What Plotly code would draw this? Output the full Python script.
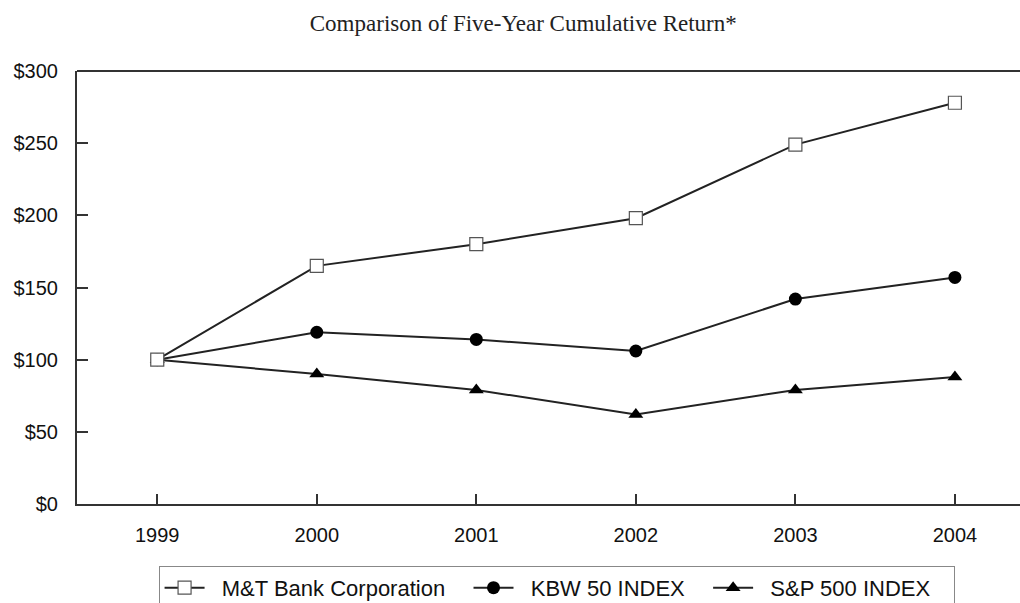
import plotly.graph_objects as go

years = [1999, 2000, 2001, 2002, 2003, 2004]
mtb = [100, 165, 180, 198, 249, 278]
kbw = [100, 119, 114, 106, 142, 157]
spx = [100, 90, 79, 62, 79, 88]
ytick_vals = [0, 50, 100, 150, 200, 250, 300]
ytick_text = ["$0", "$50", "$100", "$150", "$200", "$250", "$300"]
title = "Comparison of Five-Year Cumulative Return*"
names = ["M&T Bank Corporation", "KBW 50 INDEX", "S&P 500 INDEX"]

lead = "\u00a0" * 2
pad = "\u00a0" * 3
fig = go.Figure()
fig.add_trace(go.Scatter(x=years, y=spx, name=lead + names[2] + pad, mode="lines+markers",
                         line=dict(color="#222", width=2),
                         marker=dict(symbol="triangle-up", size=13, color="#000")))
fig.add_trace(go.Scatter(x=years, y=kbw, name=lead + names[1] + pad, mode="lines+markers",
                         line=dict(color="#222", width=2),
                         marker=dict(symbol="circle", size=13, color="#000")))
fig.add_trace(go.Scatter(x=years, y=mtb, name=lead + names[0] + pad, mode="lines+markers",
                         line=dict(color="#222", width=2),
                         marker=dict(symbol="square", size=13, color="#fff",
                                     line=dict(color="#555", width=1.2))))

fig.update_layout(
    width=1020, height=603,
    margin=dict(l=77, r=0, t=71, b=99, autoexpand=False),
    paper_bgcolor="#fff", plot_bgcolor="#fff",
    title=dict(text=title, x=0.513, xref="container", xanchor="center", y=0.962,
               yref="container", yanchor="middle",
               font=dict(family="Liberation Serif", size=23, color="#222")),
    showlegend=True,
    legend=dict(orientation="h", x=0.0865, xanchor="left", y=-0.143, yanchor="top",
                bordercolor="#888", borderwidth=1, traceorder="reversed", itemwidth=40,
                font=dict(family="Liberation Sans", size=22, color="#111")),
    font=dict(family="Liberation Sans", size=20, color="#111"),
)
fig.update_xaxes(range=[1998.497, 2004.408], tickvals=years, ticks="inside", ticklen=10,
                 tickwidth=1.5, tickcolor="#333", showline=True, linecolor="#333", linewidth=2,
                 showgrid=False, zeroline=False, ticklabelstandoff=12,
                 tickfont=dict(family="Liberation Sans", size=20, color="#111"))
fig.update_yaxes(range=[0, 300], tickvals=ytick_vals, ticktext=ytick_text, ticks="inside",
                 ticklen=11, tickwidth=1.5, tickcolor="#333", showline=True, linecolor="#333",
                 linewidth=2, showgrid=False, zeroline=False, ticklabelstandoff=13,
                 tickfont=dict(family="Liberation Sans", size=20, color="#111"))
fig.add_shape(type="line", xref="paper", yref="paper", x0=0, x1=1, y0=1, y1=1,
              line=dict(color="#333", width=2))

fig.write_html("out.html", config={"displayModeBar": False},
               post_script="document.body.style.margin='0';document.body.style.overflow='hidden';")
